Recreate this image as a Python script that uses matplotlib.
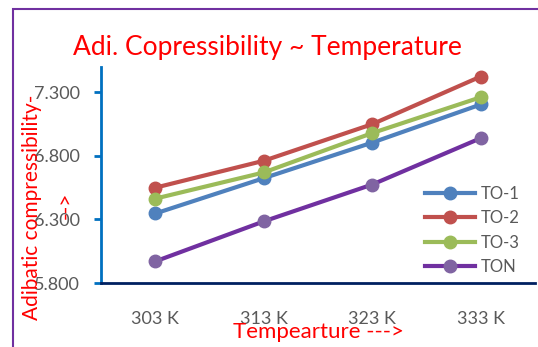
import matplotlib
matplotlib.use("Agg")
import matplotlib.pyplot as plt
from matplotlib.patches import Rectangle

plt.rcParams['font.family'] = ['Lato', 'DejaVu Sans']

# data
temps = ['303 K', '313 K', '323 K', '333 K']
to1 = [6.347, 6.625, 6.905, 7.205]
to2 = [6.550, 6.762, 7.050, 7.425]
to3 = [6.464, 6.670, 6.980, 7.262]
ton = [5.970, 6.285, 6.575, 6.940]
yticks = [5.8, 6.3, 6.8, 7.3]

fig = plt.figure(figsize=(5.38, 3.47), dpi=100)
ax = fig.add_axes([101/538, 1-283/347, 434/538, 216/347])

x = range(len(temps))
ax.plot(x, to1, color='#4F81BD', lw=3, marker='o', ms=9, label='TO-1')
ax.plot(x, to2, color='#C0504D', lw=3, marker='o', ms=9, label='TO-2')
ax.plot(x, to3, color='#9BBB59', lw=3, marker='o', ms=9, label='TO-3')
ax.plot(x, ton, color='#7030A0', lw=3, marker='o', ms=9,
        mfc='#8064A2', mec='#8064A2', label='TON')

ax.set_xlim(-0.5, 3.5)
ax.set_ylim(5.8, 7.5)
ax.set_xticks(list(x))
ax.set_xticklabels(temps)
ax.set_yticks(yticks)
ax.set_yticklabels(['%.3f' % v for v in yticks])

for s in ['top', 'right']:
    ax.spines[s].set_visible(False)
ax.spines['left'].set_color('#0070C0')
ax.spines['left'].set_linewidth(2)
ax.spines['bottom'].set_color('#002060')
ax.spines['bottom'].set_linewidth(2)
ax.tick_params(axis='y', colors='#0070C0', labelcolor='#595959', length=5, width=2,
               labelsize=13, pad=10)
ax.tick_params(axis='x', length=0, labelcolor='#595959', labelsize=13, pad=20)

# axis titles (drawn over the tick labels like the original)
fig.text(32/538, 1-207/347, 'Adibatic compressibility-', rotation=90, color='red',
         fontsize=15, ha='center', va='center', zorder=5)
fig.text(66/538, 1-205/347, '-->', rotation=90, color='red',
         fontsize=15, ha='center', va='center', zorder=5)
fig.text(318/538, 1-332/347, 'Tempearture --->', color='red', fontsize=16,
         ha='center', va='center', zorder=5)
fig.text(267/538, 1-47/347, 'Adi. Copressibility ~ Temperature', color='red',
         fontsize=19, ha='center', va='center')

leg = ax.legend(loc='center left', bbox_to_anchor=(425/538, 1-230.5/347),
                bbox_transform=fig.transFigure, frameon=False, fontsize=12,
                handlelength=3.0, handletextpad=0.35, labelspacing=0.5,
                borderpad=0, borderaxespad=0)
for t in leg.get_texts():
    t.set_color('#595959')

# outer chart frame
fig.patches.append(Rectangle((13/538, -0.05), 1.0, 1-9/347+0.05, transform=fig.transFigure,
                             fill=False, edgecolor='#7030A0', lw=1.5))

fig.savefig('out.png', dpi=100)
